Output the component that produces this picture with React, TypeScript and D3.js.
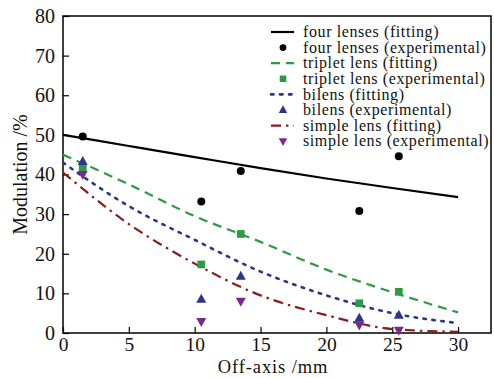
import * as d3 from "d3";
import { useEffect, useRef } from "react";

// fitted curves, sampled every 5 mm
const fitX = [0, 5, 10, 15, 20, 25, 30];
const fourFit = [50, 47.2, 44.4, 41.6, 39, 36.6, 34.3];
const tripletFit = [45, 37.5, 29.5, 23, 16, 10.3, 5.2];
const bilensFit = [43, 32, 23.5, 15.5, 9.5, 5, 2.5];
const simpleFit = [40.5, 27.5, 17.5, 9.5, 4.5, 1, 0.3];

// measured points
const expX = [1.5, 10.5, 13.5, 22.5, 25.5];
const fourExp = [49.6, 33.2, 40.9, 30.8, 44.6];
const tripletExp = [41.5, 17.3, 25, 7.5, 10.4];
const bilensExp = [43.3, 8.5, 14.3, 3.7, 4.5];
const simpleExp = [40, 2.9, 8, 2, 0.7];

const xTicks = [0, 5, 10, 15, 20, 25, 30];
const yTicks = [0, 10, 20, 30, 40, 50, 60, 70, 80];

const legendLabels = [
  "four lenses (fitting)",
  "four lenses (experimental)",
  "triplet lens (fitting)",
  "triplet lens (experimental)",
  "bilens (fitting)",
  "bilens (experimental)",
  "simple lens (fitting)",
  "simple lens (experimental)",
];

const BLACK = "#000";
const GREEN = "#2f9a45";
const BLUE = "#2e3585";
const RED = "#8a1c1c";
const PURPLE = "#7a2a8c";

type Series = {
  fit: number[];
  exp: number[];
  color: string;
  markerColor: string;
  dash: string | null;
  marker: "circle" | "square" | "up" | "down";
};

const DOTS = "2.5,6.5";

const series: Series[] = [
  { fit: fourFit, exp: fourExp, color: BLACK, markerColor: BLACK, dash: null, marker: "circle" },
  { fit: tripletFit, exp: tripletExp, color: GREEN, markerColor: GREEN, dash: "9,6", marker: "square" },
  { fit: bilensFit, exp: bilensExp, color: BLUE, markerColor: BLUE, dash: DOTS, marker: "up" },
  { fit: simpleFit, exp: simpleExp, color: RED, markerColor: PURPLE, dash: "10,5,2.5,5", marker: "down" },
];

const FONT = "'Liberation Serif', 'Times New Roman', serif";

function markerPath(kind: Series["marker"]) {
  if (kind === "circle") return d3.symbol(d3.symbolCircle, 50)()!;
  if (kind === "square") return d3.symbol(d3.symbolSquare, 60)()!;
  return "M0,-5.5L5,3.5L-5,3.5Z";
}

export default function App() {
  const svgRef = useRef<SVGSVGElement>(null);

  useEffect(() => {
    if (!svgRef.current) return;
    const width = 494;
    const height = 378;
    const marginLeft = 63;
    const marginRight = 3;
    const marginTop = 16;
    const marginBottom = 45;

    const x = d3.scaleLinear([0, 32.5], [marginLeft, width - marginRight]);
    const y = d3.scaleLinear([0, 80], [height - marginBottom, marginTop]);

    const svg = d3.select(svgRef.current);
    svg.selectAll("*").remove();

    // frame
    svg
      .append("rect")
      .attr("x", x(0))
      .attr("y", y(80))
      .attr("width", x(32.5) - x(0))
      .attr("height", y(0) - y(80))
      .attr("fill", "none")
      .attr("stroke", "#000")
      .attr("stroke-width", 1.5);

    // bottom axis, ticks pointing inward
    svg
      .append("g")
      .attr("transform", `translate(0,${y(0)})`)
      .call(
        d3
          .axisBottom(x)
          .tickValues(xTicks)
          .tickSizeInner(-6)
          .tickSizeOuter(0)
          .tickPadding(4)
          .tickFormat(d3.format("d"))
      )
      .call((g) => g.select(".domain").remove())
      .call((g) => g.selectAll(".tick line").attr("stroke-width", 1.2))
      .call((g) =>
        g
          .selectAll(".tick text")
          .attr("font-family", FONT)
          .attr("font-size", 19.5)
          .attr("fill", "#111")
      );

    // left axis
    svg
      .append("g")
      .attr("transform", `translate(${x(0)},0)`)
      .call(
        d3
          .axisLeft(y)
          .tickValues(yTicks)
          .tickSizeInner(-6)
          .tickSizeOuter(0)
          .tickPadding(8)
          .tickFormat(d3.format("d"))
      )
      .call((g) => g.select(".domain").remove())
      .call((g) => g.selectAll(".tick line").attr("stroke-width", 1.2))
      .call((g) =>
        g
          .selectAll(".tick text")
          .attr("font-family", FONT)
          .attr("font-size", 20)
          .attr("fill", "#111")
      );

    // axis titles
    svg
      .append("text")
      .attr("x", (x(0) + x(32.5)) / 2 - 4)
      .attr("y", height - 5)
      .attr("text-anchor", "middle")
      .attr("font-family", FONT)
      .attr("font-size", 18.5)
      .attr("letter-spacing", 0.9)
      .attr("fill", "#111")
      .text("Off-axis /mm");

    svg
      .append("text")
      .attr("transform", `translate(27,${(y(0) + y(80)) / 2}) rotate(-90)`)
      .attr("text-anchor", "middle")
      .attr("font-family", FONT)
      .attr("font-size", 20)
      .attr("fill", "#111")
      .text("Modulation /%");

    const line = d3
      .line<number>()
      .x((_, i) => x(fitX[i]))
      .y((d) => y(d))
      .curve(d3.curveMonotoneX);

    series.forEach((s) => {
      svg
        .append("path")
        .attr("d", line(s.fit))
        .attr("fill", "none")
        .attr("stroke", s.color)
        .attr("stroke-width", s.dash === DOTS ? 2.6 : 2.2)
        .attr("stroke-dasharray", s.dash)
        .attr("stroke-linecap", s.dash === DOTS ? "round" : "butt");
    });

    series.forEach((s) => {
      svg
        .append("g")
        .selectAll("path")
        .data(s.exp)
        .join("path")
        .attr("d", markerPath(s.marker))
        .attr("fill", s.markerColor)
        .attr(
          "transform",
          (d, i) =>
            `translate(${x(expX[i])},${y(d)})${s.marker === "down" ? " rotate(180)" : ""}`
        );
    });

    // legend
    const lx = 271;
    const ly = 32;
    const rowH = 15.6;
    const legend = svg.append("g");
    series.forEach((s, k) => {
      const r1 = ly + rowH * (2 * k);
      const r2 = ly + rowH * (2 * k + 1);
      legend
        .append("line")
        .attr("x1", lx)
        .attr("x2", lx + 23)
        .attr("y1", r1)
        .attr("y2", r1)
        .attr("stroke", s.color)
        .attr("stroke-width", s.dash === DOTS ? 2.6 : 2.2)
        .attr("stroke-dasharray", s.dash)
        .attr("stroke-linecap", s.dash === DOTS ? "round" : "butt");
      legend
        .append("path")
        .attr("d", markerPath(s.marker))
        .attr("fill", s.markerColor)
        .attr(
          "transform",
          `translate(${lx + 12},${r2}) scale(0.85)${s.marker === "down" ? " rotate(180)" : ""}`
        );
    });
    legendLabels.forEach((t, i) => {
      legend
        .append("text")
        .attr("x", 303)
        .attr("y", ly + rowH * i)
        .attr("dy", "0.33em")
        .attr("font-family", FONT)
        .attr("font-size", 16)
        .attr("letter-spacing", 0.6)
        .attr("fill", "#111")
        .text(t);
    });
  }, []);

  return (
    <svg
      ref={svgRef}
      width={494}
      height={378}
      style={{ position: "absolute", left: 0, top: 0, background: "#fff" }}
    />
  );
}
